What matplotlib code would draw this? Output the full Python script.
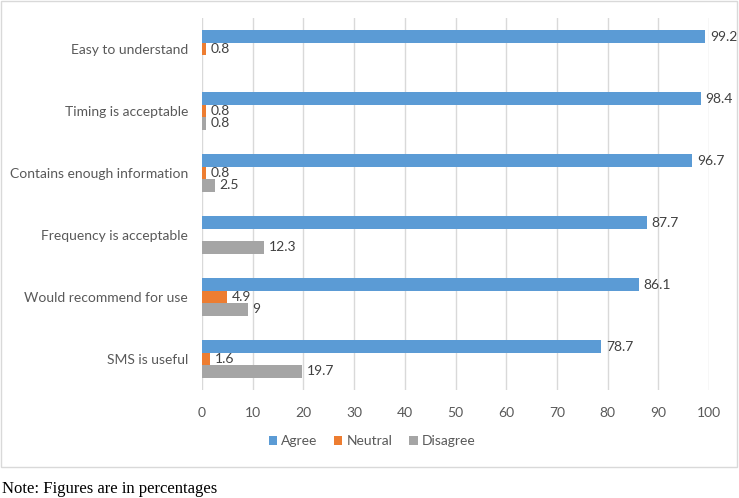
import matplotlib
matplotlib.use("Agg")
import matplotlib.pyplot as plt
from matplotlib.patches import Rectangle
import numpy as np

categories = ["Easy to understand", "Timing is acceptable", "Contains enough information",
              "Frequency is acceptable", "Would recommend for use", "SMS is useful"]
agree = [99.2, 98.4, 96.7, 87.7, 86.1, 78.7]
neutral = [0.8, 0.8, 0.8, None, 4.9, 1.6]
disagree = [None, 0.8, 2.5, 12.3, 9, 19.7]
series_names = ["Agree", "Neutral", "Disagree"]
xticks = [0, 10, 20, 30, 40, 50, 60, 70, 80, 90, 100]
note = "Note: Figures are in percentages"

colors = ["#5B9BD5", "#ED7D31", "#A5A5A5"]
txt = "#595959"
plt.rcParams['font.family'] = ['Lato', 'DejaVu Sans']

W, H = 739, 498
fig = plt.figure(figsize=(W / 100, H / 100), dpi=100)
ax = fig.add_axes([202 / W, 1 - 390 / H, (709 - 202) / W, (390 - 18) / H])

n = len(categories)
y = np.arange(n)
bh = 0.2
for i, (vals, name, c) in enumerate(zip([agree, neutral, disagree], series_names, colors)):
    ys = y + (i - 1) * bh
    v = [np.nan if a is None else a for a in vals]
    ax.barh(ys, v, height=bh, color=c, label=name, zorder=3)
    for yy, a in zip(ys, vals):
        if a is None:
            continue
        ax.annotate(f"{a:g}", (a, yy), xytext=(3.5, 0), textcoords="offset points",
                    va="center", ha="left", fontsize=10, color="#404040")

ax.set_ylim(n - 0.5, -0.5)
ax.set_xlim(0, 100)
ax.set_yticks(y)
ax.set_yticklabels(categories, fontsize=10, color=txt)
ax.set_xticks(xticks)
ax.set_xticklabels([str(t) for t in xticks], fontsize=10, color=txt)
ax.tick_params(axis='both', length=0)
ax.tick_params(axis='y', pad=10)
ax.tick_params(axis='x', pad=12)
ax.grid(axis='x', color="#D9D9D9", linewidth=1, zorder=0)
for s in ax.spines.values():
    s.set_visible(False)

handles, labels = ax.get_legend_handles_labels()
fig.legend(handles, labels, loc="center", bbox_to_anchor=(372 / W, 1 - 441 / H), ncol=3,
           frameon=False, fontsize=10, handlelength=0.6, handleheight=0.6,
           handletextpad=0.3, columnspacing=1.2, labelcolor=txt)

fig.patches.append(Rectangle((1 / W, 1 - 467 / H), 736 / W, 466 / H, transform=fig.transFigure,
                             fill=False, edgecolor="#D9D9D9", linewidth=1))
fig.text(2 / W, 1 - 489 / H, note, fontsize=12, family="Liberation Serif", va="center", ha="left",
         color="black")

fig.savefig("out.png", dpi=100)
